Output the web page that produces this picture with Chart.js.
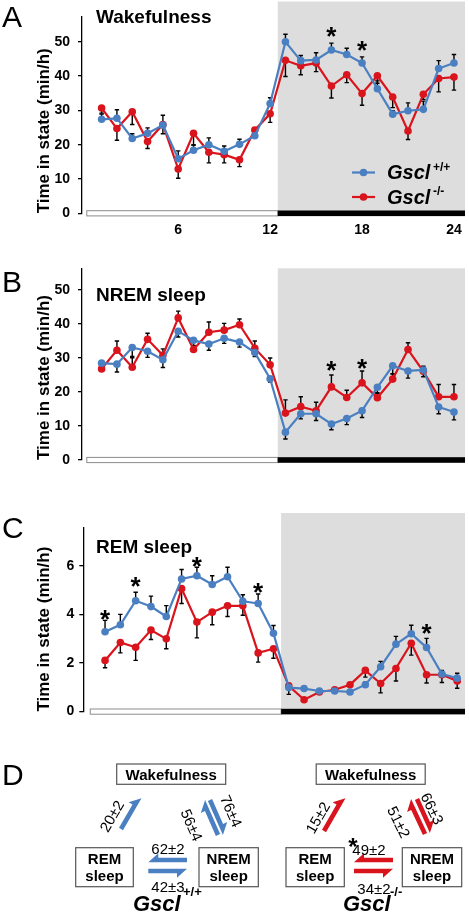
<!DOCTYPE html>
<html>
<head>
<meta charset="utf-8">
<script src="https://cdn.jsdelivr.net/npm/chart.js@4.4.1/dist/chart.umd.min.js"></script>
<style>
  body { margin: 0; background: #fff; }
  #page { position: relative; width: 469px; height: 915px; overflow: hidden; }
  canvas { position: absolute; left: 0; }
  #diagram { position: absolute; left: 0; top: 0; font-family: "Liberation Sans", Arial, sans-serif; }
</style>
</head>
<body>
<div id="page">
  <canvas id="chartA" width="469" height="240" style="top:0px"></canvas>
  <canvas id="chartB" width="469" height="250" style="top:240px"></canvas>
  <canvas id="chartC" width="469" height="245" style="top:490px"></canvas>
  <svg id="diagram" width="469" height="915"></svg>
</div>
<script>
// --- data (hour of day, ZT) ---
const hours = [1, 2, 3, 4, 5, 6, 7, 8, 9, 10, 11, 12, 13, 14, 15, 16, 17, 18, 19, 20, 21, 22, 23, 24];
const xTickValues = [6, 12, 18, 24];
const darkStart = 12.5;

// wakefulness (min/h)
const wakeWT = [27.4, 27.7, 21.8, 23.3, 25.7, 15.9, 18.4, 20.0, 18.1, 20.1, 22.6, 32.0, 50.0, 44.5, 44.7, 47.6, 46.3, 43.8, 36.3, 28.9, 29.9, 30.3, 42.2, 43.8];
const wakeKO = [30.7, 24.7, 29.6, 20.9, 25.9, 12.9, 23.3, 17.8, 17.1, 15.6, 24.3, 29.0, 44.6, 43.0, 43.8, 37.1, 40.4, 34.9, 40.1, 33.9, 24.0, 34.7, 39.3, 39.7];
const wakeWTErr = [1.5, 2.5, 1.4, 1.6, 2.9, 2.3, 1.5, 2.0, 1.5, 1.5, 1.0, 1.7, 2.2, 1.5, 2.1, 2.0, 1.8, 1.8, 2.3, 1.0, 2.3, 2.4, 2.3, 2.5];
const wakeKOErr = [1.5, 3.4, 3.7, 2.0, 2.7, 2.7, 3.4, 3.1, 2.4, 2.0, 1.0, 2.5, 4.7, 2.6, 2.5, 3.5, 2.3, 3.4, 2.2, 3.1, 2.5, 1.5, 3.9, 3.8];
const wakeStarHours = [16, 18];
const wakeStarLevels = [53.5, 49.4];

// NREM sleep (min/h)
const nremWT = [28.5, 28.2, 33.1, 32.0, 29.5, 37.9, 35.2, 34.1, 35.8, 34.7, 31.6, 23.9, 8.2, 13.6, 13.6, 10.6, 12.2, 14.5, 21.4, 27.7, 26.2, 26.5, 15.6, 14.1];
const nremKO = [26.8, 32.3, 27.3, 35.5, 30.8, 41.8, 32.5, 37.6, 38.2, 39.8, 32.9, 28.0, 13.8, 15.7, 14.5, 21.5, 18.4, 22.7, 18.3, 23.8, 32.5, 26.1, 18.6, 18.6];
const nremWTErr = [1.0, 2.3, 2.6, 1.8, 2.3, 1.7, 1.5, 1.8, 1.5, 1.5, 1.2, 1.0, 2.0, 1.5, 2.0, 1.7, 1.8, 2.0, 1.8, 2.3, 2.1, 2.0, 2.0, 2.3];
const nremKOErr = [1.0, 2.7, 2.8, 1.8, 1.9, 2.0, 1.0, 3.0, 2.0, 1.7, 2.1, 2.0, 3.9, 2.9, 2.5, 3.5, 2.1, 3.5, 1.5, 1.5, 2.0, 1.5, 3.6, 3.6];
const nremStarHours = [16, 18];
const nremStarLevels = [28.2, 28.9];

// REM sleep (min/h)
const remWT = [3.29, 3.58, 4.57, 4.33, 3.92, 5.47, 5.60, 5.24, 5.56, 4.55, 4.46, 3.23, 0.99, 0.95, 0.85, 0.85, 0.81, 1.11, 1.85, 2.78, 3.21, 2.64, 1.55, 1.38];
const remKO = [2.11, 2.85, 2.65, 3.36, 3.00, 5.07, 3.69, 4.10, 4.36, 4.36, 2.42, 2.59, 1.06, 0.49, 0.81, 0.90, 1.11, 1.70, 1.16, 1.78, 2.82, 1.52, 1.52, 1.26];
const remWTErr = [0.47, 0.43, 0.35, 0.43, 0.45, 0.39, 0.35, 0.36, 0.39, 0.27, 0.39, 0.32, 0.05, 0.05, 0.08, 0.05, 0.05, 0.10, 0.22, 0.32, 0.35, 0.38, 0.15, 0.20];
const remKOErr = [0.30, 0.43, 0.54, 0.39, 0.41, 0.61, 0.65, 0.52, 0.44, 0.39, 0.38, 0.39, 0.35, 0.05, 0.10, 0.05, 0.05, 0.28, 0.39, 0.52, 0.49, 0.34, 0.32, 0.30];
const remStarHours = [1, 3, 7, 11, 22];
const remStarLevels = [4.08, 5.44, 6.25, 5.17, 3.5];

const ticksAB = [0, 10, 20, 30, 40, 50];
const ticksC = [0, 2, 4, 6];

// --- style ---
const BLUE = '#4a7fc1';
const RED = '#d9141c';
const FONT = '"Liberation Sans", Arial, sans-serif';

// shading, error bars, light/dark bar, labels
const decor = {
    id: 'decor',
    beforeDatasetsDraw(chart, args, o) {
        const { ctx, scales: { x, y } } = chart;
        const y0 = y.getPixelForValue(0);
        const gx = x.getPixelForValue(darkStart);
        ctx.save();
        ctx.fillStyle = '#dddddd';
        ctx.fillRect(gx, o.shadeTop, x.right - gx, y0 - o.shadeTop);

        // one-sided SEM bars
        ctx.strokeStyle = '#000';
        ctx.lineWidth = 1.4;
        chart.data.datasets.forEach(ds => {
            ds.data.forEach((p, i) => {
                const px = x.getPixelForValue(p.x);
                const pa = y.getPixelForValue(p.y);
                const pb = y.getPixelForValue(p.y + ds.errDir * ds.err[i]);
                ctx.beginPath();
                ctx.moveTo(px, pa); ctx.lineTo(px, pb);
                ctx.moveTo(px - 2.2, pb); ctx.lineTo(px + 2.2, pb);
                ctx.stroke();
            });
        });
        ctx.restore();
    },
    afterDraw(chart, args, o) {
        const { ctx, scales: { x, y } } = chart;
        const y0 = y.getPixelForValue(0);
        const gx = x.getPixelForValue(darkStart);
        ctx.save();

        // light / dark bar along the x axis
        const lx = x.getPixelForValue(0);
        ctx.fillStyle = '#fff';
        ctx.strokeStyle = '#8c8c8c';
        ctx.lineWidth = 1;
        ctx.fillRect(lx, y0 - 2.6, gx - lx, 5.2);
        ctx.strokeRect(lx + 0.5, y0 - 2.6, gx - lx - 0.5, 5.2);
        ctx.fillStyle = '#000';
        ctx.fillRect(gx, y0 - 2.8, x.right - gx, 5.6);

        // panel letter and title
        ctx.fillStyle = '#000';
        ctx.font = '30px ' + FONT;
        ctx.textBaseline = 'alphabetic';
        ctx.fillText(o.letter, 2, o.letterY);
        ctx.font = 'bold 19px ' + FONT;
        ctx.fillText(o.title, 96, o.titleY);

        // y title, ending at the zero line
        ctx.save();
        ctx.translate(44, y0);
        ctx.rotate(-Math.PI / 2);
        ctx.font = 'bold 17px ' + FONT;
        ctx.textBaseline = 'middle';
        ctx.textAlign = 'left';
        ctx.fillText('Time in state (min/h)', 0, 0);
        ctx.restore();

        // significance stars
        ctx.font = 'bold 26px ' + FONT;
        ctx.textAlign = 'center';
        o.starHours.forEach((h, i) => {
            ctx.fillText('*', x.getPixelForValue(h), y.getPixelForValue(o.starLevels[i]) + 15);
        });

        // legend
        if (o.legend) {
            chart.data.datasets.forEach((ds, i) => {
                const ly = 172.5 + i * 24.5;
                ctx.strokeStyle = ds.borderColor;
                ctx.lineWidth = 2.2;
                ctx.beginPath(); ctx.moveTo(352, ly); ctx.lineTo(375, ly); ctx.stroke();
                ctx.fillStyle = ds.borderColor;
                ctx.beginPath(); ctx.arc(363.5, ly, 3.8, 0, Math.PI * 2); ctx.fill();
                ctx.fillStyle = '#000';
                ctx.textAlign = 'left';
                ctx.textBaseline = 'middle';
                ctx.font = 'italic bold 20px ' + FONT;
                ctx.fillText('Gscl', 387, ly + 1);
                ctx.font = 'bold 12px ' + FONT;
                ctx.fillText(ds.sup, 433, ly - 5);
            });
        }
        ctx.restore();
    }
};

function makePanel(id, o) {
    const series = (vals, err, dir, color, sup) => ({
        data: hours.map((h, i) => ({ x: h, y: vals[i] })),
        err: err, errDir: dir, sup: sup,
        borderColor: color, backgroundColor: color,
        pointBackgroundColor: color, borderWidth: 2.2,
        pointRadius: 3.8, pointBorderWidth: 0, tension: 0
    });
    return new Chart(document.getElementById(id), {
        type: 'line',
        data: {
            datasets: [
                series(o.wt, o.wtErr, o.wtDir, BLUE, '+/+'),
                series(o.ko, o.koErr, -o.wtDir, RED, '-/-')
            ]
        },
        options: {
            responsive: false,
            animation: false,
            devicePixelRatio: 1,
            layout: { padding: { top: o.top, right: 3, bottom: o.showX ? 0 : o.padBottom, left: 0 } },
            plugins: {
                legend: { display: false },
                tooltip: { enabled: false },
                decor: {
                    letter: o.letter, letterY: o.letterY, title: o.title, titleY: o.titleY,
                    shadeTop: o.shadeTop, starHours: o.starHours, starLevels: o.starLevels, legend: o.legend
                }
            },
            scales: {
                x: {
                    type: 'linear', min: o.xMin, max: o.xMax, display: o.showX,
                    afterBuildTicks: s => { s.ticks = xTickValues.map(v => ({ value: v })); },
                    afterFit: s => { s.height = o.padBottom; },
                    grid: { display: false }, border: { display: false },
                    ticks: { color: '#000', font: { family: FONT, size: 14, weight: 'bold' }, padding: 0, maxRotation: 0 }
                },
                y: {
                    min: 0, max: o.yMax,
                    afterBuildTicks: s => { s.ticks = o.yTicks.map(v => ({ value: v })); },
                    afterFit: s => { s.width = o.axisX; },
                    grid: { drawOnChartArea: false, drawTicks: true, tickLength: 4, color: '#000', lineWidth: 1.3 },
                    border: { color: '#000', width: 1.3 },
                    ticks: { color: '#000', font: { family: FONT, size: 14, weight: 'bold' }, padding: o.tickPad }
                }
            }
        },
        plugins: [decor]
    });
}

makePanel('chartA', {
    wt: wakeWT, ko: wakeKO, wtErr: wakeWTErr, koErr: wakeKOErr, wtDir: 1,
    yMax: 57.4, yTicks: ticksAB, top: 2.8, padBottom: 26.7, showX: true,
    xMin: -0.28, xMax: 24.72, axisX: 82, tickPad: 8, shadeTop: 1.5,
    letter: 'A', letterY: 27, title: 'Wakefulness', titleY: 23.3,
    starHours: wakeStarHours, starLevels: wakeStarLevels, legend: true
});
makePanel('chartB', {
    wt: nremWT, ko: nremKO, wtErr: nremWTErr, koErr: nremKOErr, wtDir: -1,
    yMax: 56.4, yTicks: ticksAB, top: 28.3, padBottom: 15, showX: false,
    xMin: -0.28, xMax: 24.72, axisX: 82, tickPad: 8, shadeTop: 28.3,
    letter: 'B', letterY: 52, title: 'NREM sleep', titleY: 61,
    starHours: nremStarHours, starLevels: nremStarLevels, legend: false
});
makePanel('chartC', {
    wt: remWT, ko: remKO, wtErr: remWTErr, koErr: remKOErr, wtDir: 1,
    yMax: 7.57, yTicks: ticksC, top: 38, padBottom: 11.7, showX: false,
    xMin: -0.42, xMax: 24.51, axisX: 83.3, tickPad: 5, shadeTop: 23,
    letter: 'C', letterY: 48, title: 'REM sleep', titleY: 63.3,
    starHours: remStarHours, starLevels: remStarLevels, legend: false
});

// --- panel D: transition diagram ---
const svg = document.getElementById('diagram');
const NS = 'http://www.w3.org/2000/svg';
function add(tag, attrs, text) {
    const el = document.createElementNS(NS, tag);
    for (const k in attrs) el.setAttribute(k, attrs[k]);
    if (text) el.textContent = text;
    svg.appendChild(el);
    return el;
}
// half-headed arrow from (x1,y1) to tip (x2,y2); side +1 = barb on the left of travel
function harpoon(x1, y1, x2, y2, side, color) {
    const len = Math.hypot(x2 - x1, y2 - y1);
    const dx = (x2 - x1) / len, dy = (y2 - y1) / len;
    const nx = side * dy, ny = -side * dx;
    const w = 2.3, L = 10, b = 4.5;
    const pts = [
        [x1 - nx * w, y1 - ny * w],
        [x2 - nx * w, y2 - ny * w],
        [x2 - dx * L + nx * (w + b), y2 - dy * L + ny * (w + b)],
        [x2 - dx * L + nx * w, y2 - dy * L + ny * w],
        [x1 + nx * w, y1 + ny * w]
    ];
    add('polygon', { points: pts.map(p => p.join(',')).join(' '), fill: color });
}
function box(x1, y1, x2, y2, lines) {
    add('rect', { x: x1, y: y1, width: x2 - x1, height: y2 - y1, fill: '#fff', stroke: '#555', 'stroke-width': 1.2 });
    const cx = (x1 + x2) / 2;
    lines.forEach(l => add('text', { x: cx, y: l[1], 'text-anchor': 'middle', 'font-size': 15, 'font-weight': 'bold' }, l[0]));
}
function rotText(t, cx, cy, ang) {
    add('text', { x: cx, y: cy, 'text-anchor': 'middle', 'dominant-baseline': 'central', 'font-size': 15,
        transform: `rotate(${ang} ${cx} ${cy})` }, t);
}
add('text', { x: 2, y: 785, 'font-size': 30 }, 'D');

const groups = [
    { dx: 0, color: BLUE, sup: '+/+', rw: [121, 829, 139.5, 797], nw: [218, 835, 203, 801], wn: [210, 800, 225, 834], gx: 133, supX: 183 },
    { dx: 199.5, color: RED, sup: '-/-', rw: [324, 831, 343.5, 797], nw: [425, 834, 409, 800], wn: [417, 799, 432, 832], gx: 343, supX: 390 }
];
groups.forEach((g, k) => {
    const d = g.dx;
    box(116.7 + d, 764, 225.7 + d, 784.3, [['Wakefulness', 779.5]]);
    box(75.7 + (k ? 210.3 : 0), 847.7, 133.3 + (k ? 211 : 0), 886.7, [['REM', 864], ['sleep', 881]]);
    box(199 + (k ? 203.3 : 0), 847.7, 258.3 + (k ? 203.4 : 0), 886.7, [['NREM', 864], ['sleep', 881]]);
    harpoon(...g.rw, 1, g.color);
    harpoon(...g.nw, 1, g.color);
    harpoon(...g.wn, 1, g.color);
    const hx1 = k ? 354 : 148.3, hx2 = k ? 393 : 187;
    harpoon(hx2, 860, hx1, 860, -1, g.color);
    harpoon(hx1, 871, hx2, 871, -1, g.color);
    add('text', { x: g.gx, y: 911, 'font-size': 22, 'font-weight': 'bold', 'font-style': 'italic' }, 'Gscl');
    add('text', { x: g.supX, y: 896, 'font-size': 13, 'font-weight': 'bold' }, g.sup);
});
rotText('20±2', 111.5, 816, -60);
rotText('56±4', 192, 825, 66);
rotText('76±4', 231.5, 811, 66);
rotText('15±2', 317.5, 817.5, -60);
rotText('51±2', 399, 822, 64);
rotText('66±3', 432.5, 808.5, 64);
add('text', { x: 168, y: 853.5, 'text-anchor': 'middle', 'font-size': 15 }, '62±2');
add('text', { x: 168, y: 891.5, 'text-anchor': 'middle', 'font-size': 15 }, '42±3');
add('text', { x: 369, y: 855, 'text-anchor': 'middle', 'font-size': 15 }, '49±2');
add('text', { x: 374, y: 894, 'text-anchor': 'middle', 'font-size': 15 }, '34±2');
add('text', { x: 353, y: 855, 'text-anchor': 'middle', 'font-size': 24, 'font-weight': 'bold' }, '*');
</script>
</body>
</html>
